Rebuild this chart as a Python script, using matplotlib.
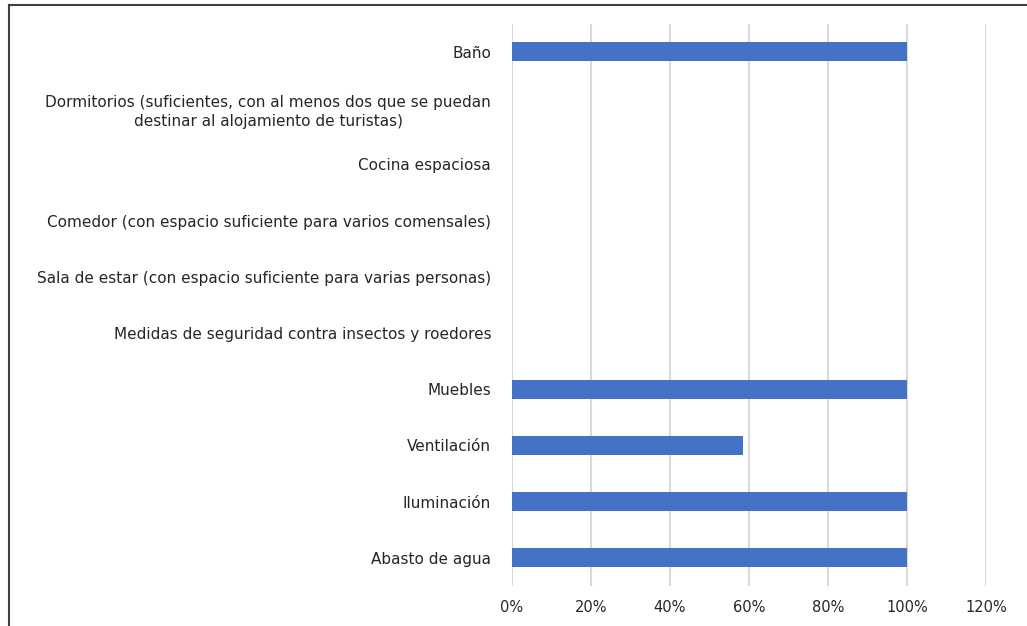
import matplotlib
matplotlib.use('Agg')
import matplotlib.pyplot as plt
from matplotlib.ticker import PercentFormatter
from matplotlib.lines import Line2D

# categories listed top to bottom, as in the picture
categories = [
    'Baño',
    'Dormitorios (suficientes, con al menos dos que se puedan\ndestinar al alojamiento de turistas)',
    'Cocina espaciosa',
    'Comedor (con espacio suficiente para varios comensales)',
    'Sala de estar (con espacio suficiente para varias personas)',
    'Medidas de seguridad contra insectos y roedores',
    'Muebles',
    'Ventilación',
    'Iluminación',
    'Abasto de agua',
]
values = [1.0, 0.0, 0.0, 0.0, 0.0, 0.0, 1.0, 0.585, 1.0, 1.0]
x_ticks = [0, 0.2, 0.4, 0.6, 0.8, 1.0, 1.2]

plt.rcParams['font.family'] = ['DejaVu Sans']

fig = plt.figure(figsize=(10.27, 6.26), dpi=100)
ax = fig.add_axes([0.4985, 0.064, 0.4615, 0.898])

pos = list(range(len(categories)))
ax.barh(pos, values, height=0.34, color='#4472C4', zorder=3)
ax.set_ylim(len(categories) - 0.5, -0.5)
ax.set_yticks(pos)
ax.set_yticklabels(categories, fontsize=11, color='#262626')
for lbl in ax.get_yticklabels():
    lbl.set_multialignment('center')
    lbl.set_linespacing(1.4)

ax.set_xlim(0, 1.2)
ax.set_xticks(x_ticks)
ax.xaxis.set_major_formatter(PercentFormatter(1.0, decimals=0))
ax.tick_params(axis='x', labelsize=10.5, labelcolor='#262626', length=0, pad=10)
ax.tick_params(axis='y', length=0, pad=15)
ax.grid(True, axis='x', color='#d9d9d9', linewidth=1.5, zorder=0)
for s in ax.spines.values():
    s.set_visible(False)

# frame around the chart (only left and top edges visible in the crop)
fig.add_artist(Line2D([0.009, 0.009], [0, 0.992], transform=fig.transFigure, color='#404040', linewidth=1.5))
fig.add_artist(Line2D([0.009, 1.0], [0.992, 0.992], transform=fig.transFigure, color='#404040', linewidth=1.5))

fig.savefig('out.png', dpi=100)
